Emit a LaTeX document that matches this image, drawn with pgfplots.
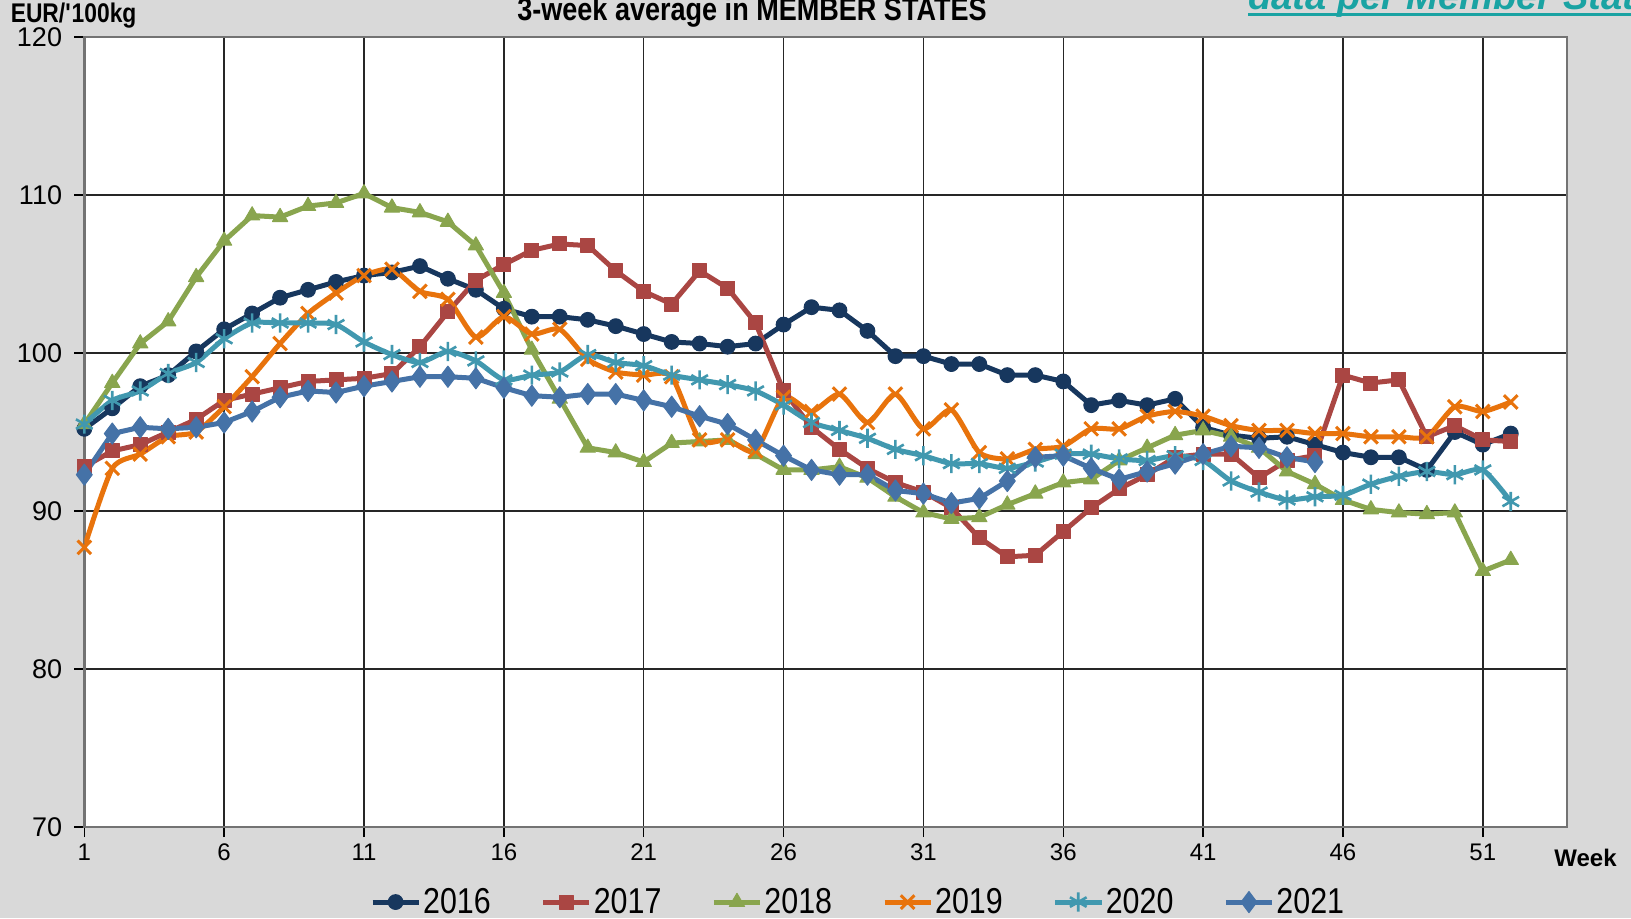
\documentclass[border=0pt]{standalone}
\usepackage{pgfplots}
\pgfplotsset{compat=1.18}
\usepackage{fontspec}
\setmainfont{Liberation Sans}
\newfontfamily\narrowfont[FakeStretch=0.845]{Liberation Sans}
\definecolor{bg}{HTML}{D9D9D9}
\definecolor{cA}{HTML}{17375E}
\definecolor{cB}{HTML}{AA4643}
\definecolor{cC}{HTML}{89A54E}
\definecolor{cD}{HTML}{E8730C}
\definecolor{cE}{HTML}{4198AF}
\definecolor{cF}{HTML}{4572A7}
\definecolor{linkc}{HTML}{1AA3A3}

\pgfplotstableread{
w y
1 95.2
2 96.5
3 97.9
4 98.6
5 100.1
6 101.5
7 102.5
8 103.5
9 104.0
10 104.5
11 104.9
12 105.1
13 105.5
14 104.7
15 104.0
16 102.8
17 102.3
18 102.3
19 102.1
20 101.7
21 101.2
22 100.7
23 100.6
24 100.4
25 100.6
26 101.8
27 102.9
28 102.7
29 101.4
30 99.8
31 99.8
32 99.3
33 99.3
34 98.6
35 98.6
36 98.2
37 96.7
38 97.0
39 96.7
40 97.1
41 95.3
42 94.8
43 94.6
44 94.7
45 94.2
46 93.7
47 93.4
48 93.4
49 92.6
50 95.0
51 94.2
52 94.9
}\tA

\pgfplotstableread{
w y
1 92.8
2 93.8
3 94.2
4 95.0
5 95.8
6 97.0
7 97.4
8 97.8
9 98.2
10 98.3
11 98.4
12 98.7
13 100.4
14 102.6
15 104.6
16 105.6
17 106.5
18 106.9
19 106.8
20 105.2
21 103.9
22 103.1
23 105.2
24 104.1
25 101.9
26 97.6
27 95.3
28 93.9
29 92.7
30 91.8
31 91.2
32 90.2
33 88.3
34 87.1
35 87.2
36 88.7
37 90.2
38 91.4
39 92.3
40 93.4
41 93.6
42 93.6
43 92.1
44 93.2
45 93.5
46 98.6
47 98.1
48 98.3
49 94.7
50 95.4
51 94.5
52 94.4
}\tB

\pgfplotstableread{
w y
1 95.5
2 98.1
3 100.6
4 102.0
5 104.8
6 107.1
7 108.7
8 108.6
9 109.3
10 109.5
11 110.1
12 109.2
13 108.9
14 108.3
15 106.8
16 103.8
17 100.2
18 97.1
19 94.0
20 93.7
21 93.1
22 94.3
23 94.4
24 94.5
25 93.6
26 92.6
27 92.6
28 92.8
29 92.1
30 90.9
31 89.9
32 89.5
33 89.6
34 90.4
35 91.1
36 91.8
37 92.0
38 93.2
39 94.0
40 94.8
41 95.1
42 94.7
43 94.0
44 92.5
45 91.7
46 90.7
47 90.1
48 89.9
49 89.8
50 89.9
51 86.2
52 86.9
}\tC

\pgfplotstableread{
w y
1 87.7
2 92.7
3 93.6
4 94.7
5 95.0
6 96.6
7 98.5
8 100.6
9 102.5
10 103.8
11 104.9
12 105.3
13 103.9
14 103.4
15 101.0
16 102.3
17 101.2
18 101.5
19 99.6
20 98.8
21 98.6
22 98.5
23 94.5
24 94.5
25 93.8
26 97.2
27 96.3
28 97.4
29 95.6
30 97.4
31 95.2
32 96.4
33 93.7
34 93.3
35 93.9
36 94.1
37 95.2
38 95.2
39 96.0
40 96.3
41 96.0
42 95.4
43 95.1
44 95.1
45 94.9
46 94.9
47 94.7
48 94.7
49 94.7
50 96.6
51 96.3
52 96.9
}\tD

\pgfplotstableread{
w y
1 95.5
2 97.0
3 97.6
4 98.7
5 99.4
6 100.9
7 101.9
8 101.9
9 101.9
10 101.8
11 100.7
12 99.9
13 99.4
14 100.1
15 99.5
16 98.3
17 98.6
18 98.8
19 99.9
20 99.4
21 99.2
22 98.6
23 98.3
24 98.0
25 97.6
26 96.7
27 95.6
28 95.1
29 94.6
30 93.9
31 93.5
32 93.0
33 93.0
34 92.7
35 93.1
36 93.6
37 93.6
38 93.3
39 93.2
40 93.5
41 93.2
42 91.9
43 91.2
44 90.7
45 90.9
46 91.0
47 91.7
48 92.2
49 92.5
50 92.3
51 92.6
52 90.6
}\tE

\pgfplotstableread{
w y
1 92.3
2 94.9
3 95.3
4 95.2
5 95.3
6 95.6
7 96.3
8 97.2
9 97.6
10 97.5
11 97.9
12 98.2
13 98.5
14 98.5
15 98.4
16 97.8
17 97.3
18 97.2
19 97.4
20 97.4
21 97.0
22 96.6
23 96.0
24 95.5
25 94.5
26 93.5
27 92.6
28 92.3
29 92.3
30 91.3
31 91.1
32 90.5
33 90.8
34 91.9
35 93.4
36 93.5
37 92.7
38 92.0
39 92.5
40 93.0
41 93.6
42 94.1
43 94.0
44 93.4
45 93.1
}\tF

\begin{document}
\begin{tikzpicture}
\clip (0pt,0pt) rectangle (815.5pt,459pt);
\fill[bg] (0pt,0pt) rectangle (815.5pt,459pt);
\begin{axis}[
  at={(42.15pt,45.5pt)}, anchor=south west,
  scale only axis, width=741.2pt, height=395pt,
  xmin=1, xmax=54, ymin=70, ymax=120,
  xtick={1,6,...,51}, ytick={70,80,...,120},
  axis background/.style={fill=white},
  grid=major,
  major grid style={black!85, line width=0.7pt},
  axis line style={black!55, line width=1.2pt},
  tick align=outside, major tick length=5pt,
  tick style={black, line width=0.7pt},
  xtick pos=bottom, ytick pos=left,
  /pgf/number format/assume math mode=true,
  yticklabel style={font=\fontsize{13.5}{15}\selectfont, xshift=-2.6pt},
  xticklabel style={font=\fontsize{12}{14}\selectfont},
  legend columns=6,
  legend style={at={(0.522,-0.095)}, anchor=center, draw=none, fill=none,
    font=\narrowfont\fontsize{18}{20}\selectfont,
    nodes={inner xsep=1pt, inner ysep=0pt},
    /tikz/every even column/.append style={column sep=24pt}},
  legend cell align=left,
  legend image code/.code={\draw[mark repeat=2,mark phase=2] plot coordinates {(0pt,0pt)(11.5pt,0pt)(23pt,0pt)};},
  every axis plot/.append style={line width=2.5pt, line join=round},
]
\addplot[cA, mark=*, mark size=3.7pt, mark options={solid, line width=0.5pt}] table[x=w,y=y] {\tA};
\addplot[cB, mark=square*, mark size=3.5pt, mark options={solid, line width=0.5pt}] table[x=w,y=y] {\tB};
\addplot[cC, mark=triangle*, mark size=4.4pt, mark options={solid, line width=0.5pt}] table[x=w,y=y] {\tC};
\addplot[cD, smooth, tension=0.4, mark=x, mark size=4.8pt, mark options={solid, line width=1.5pt}] table[x=w,y=y] {\tD};
\addplot[cE, smooth, tension=0.4, mark=asterisk, mark size=4.8pt, mark options={solid, line width=1.3pt}] table[x=w,y=y] {\tE};
\addplot[cF, mark=diamond*, mark size=5.3pt, mark options={solid, line width=0.5pt}] table[x=w,y=y] {\tF};
\legend{2016,2017,2018,2019,2020,2021}
\end{axis}
\node[anchor=base, inner sep=0pt, font=\narrowfont\bfseries\fontsize{16}{18}\selectfont] at (376pt,448.5pt) {3-week average in MEMBER STATES};
\node[anchor=base west, inner sep=0pt, font=\narrowfont\bfseries\fontsize{13.5}{15}\selectfont] at (5.2pt,447.5pt) {EUR/\textquotesingle100kg};
\node[anchor=base west, inner sep=0pt, text=linkc, font=\bfseries\itshape\fontsize{19}{21}\selectfont] at (624pt,454pt) {data per Member State};
\draw[linkc, line width=1.5pt] (624pt,451.5pt) -- (815.5pt,451.5pt);
\node[font=\bfseries\fontsize{12}{14}\selectfont] at (792.75pt,30pt) {Week};
\end{tikzpicture}
\end{document}
